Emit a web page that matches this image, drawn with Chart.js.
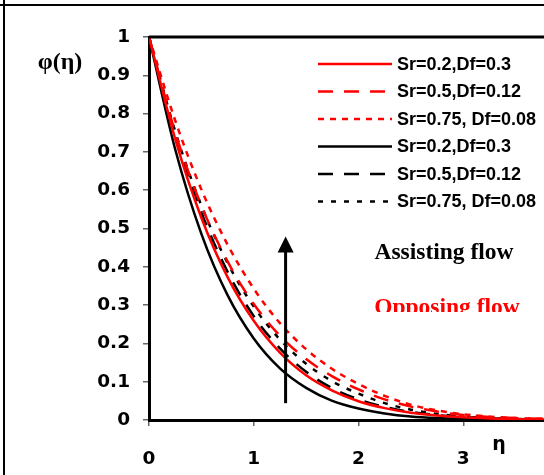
<!DOCTYPE html>
<html lang="en">
<head>
<meta charset="UTF-8">
<script src="https://cdn.jsdelivr.net/npm/chart.js"></script>
<style>
  body { margin: 0; background: #fff; overflow: hidden; }
  .wrap { width: 575px; height: 475px; }
</style>
</head>
<body>
<div class="wrap"><canvas id="chart" width="575" height="475"></canvas></div>
<script>
  // eta grid and concentration profiles
  const etaValues = [0, 0.25, 0.5, 0.75, 1, 1.25, 1.5, 1.75, 2, 2.25, 2.5, 2.75, 3, 3.25, 3.5, 3.75, 4];
  const redSolid    = [1, 0.734, 0.528, 0.373, 0.259, 0.176, 0.117, 0.077, 0.049, 0.031, 0.019, 0.012, 0.007, 0.004, 0.002, 0.001, 0.0005];
  const redDashed   = [1, 0.751, 0.560, 0.414, 0.303, 0.220, 0.159, 0.114, 0.080, 0.054, 0.035, 0.022, 0.013, 0.008, 0.005, 0.003, 0.002];
  const redDotted   = [1, 0.782, 0.602, 0.458, 0.343, 0.253, 0.185, 0.133, 0.094, 0.063, 0.040, 0.025, 0.015, 0.009, 0.005, 0.003, 0.002];
  const blackSolid  = [1, 0.707, 0.486, 0.326, 0.213, 0.135, 0.084, 0.050, 0.030, 0.017, 0.009, 0.005, 0.003, 0.0014, 0.0007, 0.0003, 0.0001];
  const blackDashed = [1, 0.743, 0.542, 0.387, 0.271, 0.187, 0.126, 0.083, 0.054, 0.034, 0.021, 0.013, 0.008, 0.0045, 0.0025, 0.0013, 0.0007];
  const blackDotted = [1, 0.754, 0.560, 0.410, 0.296, 0.210, 0.147, 0.101, 0.069, 0.044, 0.027, 0.016, 0.009, 0.005, 0.003, 0.002, 0.001];

  const seriesLabels = ['Sr=0.2,Df=0.3', 'Sr=0.5,Df=0.12', 'Sr=0.75, Df=0.08',
                        'Sr=0.2,Df=0.3', 'Sr=0.5,Df=0.12', 'Sr=0.75, Df=0.08'];
  const xTickLabels = ['0', '1', '2', '3', '4'];
  const yTickLabels = ['0', '0.1', '0.2', '0.3', '0.4', '0.5', '0.6', '0.7', '0.8', '0.9', '1'];

  // arrow (in data units)
  const arrowEta = 1.304, arrowFrom = 0.044, arrowTo = 0.479;

  const pts = arr => etaValues.map((x, i) => ({ x: x, y: arr[i] }));
  const RED = '#ff0000', BLACK = '#000000';

  function ds(label, data, color, dash) {
    return {
      label: label, data: pts(data), borderColor: color, borderWidth: 2.5,
      borderDash: dash, pointRadius: 0, fill: false, cubicInterpolationMode: 'monotone'
    };
  }

  const extras = {
    id: 'extras',
    afterDraw(chart) {
      const ctx = chart.ctx, a = chart.chartArea;
      const xs = chart.scales.x, ys = chart.scales.y;
      ctx.save();
      // outer figure frame
      ctx.strokeStyle = '#000'; ctx.lineWidth = 2;
      ctx.beginPath(); ctx.moveTo(0, 5); ctx.lineTo(chart.width, 5);
      ctx.moveTo(4, 0); ctx.lineTo(4, chart.height); ctx.stroke();
      // top and right of plot box
      ctx.lineWidth = 3;
      ctx.beginPath(); ctx.moveTo(a.left, a.top); ctx.lineTo(a.right, a.top); ctx.lineTo(a.right, a.bottom); ctx.stroke();

      // legend
      const legendY0 = 64, legendStep = 27.5;
      chart.data.datasets.forEach((d, i) => {
        const y = legendY0 + i * legendStep;
        ctx.strokeStyle = d.borderColor; ctx.lineWidth = 2.5;
        ctx.setLineDash(d.borderDash || []);
        ctx.beginPath(); ctx.moveTo(318, y); ctx.lineTo(392, y); ctx.stroke();
        ctx.setLineDash([]);
        ctx.fillStyle = '#000'; ctx.font = 'bold 18px "Liberation Sans", Arial, sans-serif';
        ctx.textAlign = 'left'; ctx.textBaseline = 'middle';
        ctx.fillText(d.label, 397, y + 1);
      });

      // arrow
      const ax = xs.getPixelForValue(arrowEta);
      const ay0 = ys.getPixelForValue(arrowFrom), ay1 = ys.getPixelForValue(arrowTo);
      ctx.strokeStyle = '#000'; ctx.fillStyle = '#000'; ctx.lineWidth = 3;
      ctx.beginPath(); ctx.moveTo(ax, ay0); ctx.lineTo(ax, ay1 + 12); ctx.stroke();
      ctx.beginPath(); ctx.moveTo(ax, ay1); ctx.lineTo(ax - 8, ay1 + 16); ctx.lineTo(ax + 8, ay1 + 16); ctx.closePath(); ctx.fill();

      // captions
      ctx.font = 'bold 23.5px "Liberation Serif", "Times New Roman", serif';
      ctx.textAlign = 'center'; ctx.textBaseline = 'alphabetic';
      ctx.fillStyle = '#000';
      ctx.fillText('Assisting flow', 444, 259);
      ctx.save();
      ctx.beginPath(); ctx.rect(300, 280, 260, 32); ctx.clip();
      ctx.fillStyle = RED;
      ctx.fillText('Opposing flow', 447, 314);
      ctx.restore();

      // axis titles
      ctx.fillStyle = '#000';
      ctx.font = 'bold 24px "Liberation Serif", "Times New Roman", serif';
      ctx.textAlign = 'center'; ctx.textBaseline = 'middle';
      ctx.fillText('φ(η)', 60, 63);
      ctx.font = 'bold 19px "DejaVu Sans", sans-serif';
      ctx.fillText('η', 499, 445);
      ctx.restore();
    }
  };

  const tickFont = { family: '"DejaVu Sans", sans-serif', size: 18.5, weight: 'bold' };

  new Chart(document.getElementById('chart'), {
    type: 'line',
    data: {
      datasets: [
        ds(seriesLabels[0], redSolid, RED, []),
        ds(seriesLabels[1], redDashed, RED, [15, 11]),
        ds(seriesLabels[2], redDotted, RED, [6, 6]),
        ds(seriesLabels[3], blackSolid, BLACK, []),
        ds(seriesLabels[4], blackDashed, BLACK, [15, 11]),
        ds(seriesLabels[5], blackDotted, BLACK, [5, 8])
      ]
    },
    options: {
      responsive: false,
      animation: false,
      layout: { padding: { top: 37, right: 7, left: 0, bottom: 0 } },
      plugins: { legend: { display: false }, tooltip: { enabled: false } },
      scales: {
        x: {
          type: 'linear', min: 0, max: 4,
          afterFit: s => { s.height = 55; s.paddingLeft = 0; s.paddingRight = 0; },
          border: { color: '#000', width: 3 },
          grid: { drawOnChartArea: false, drawTicks: true, tickLength: 6, tickColor: '#666', lineWidth: 1.5 },
          ticks: {
            stepSize: 1, autoSkip: false, maxRotation: 0, padding: 22, color: '#000',
            font: tickFont,
            callback: (v, i) => xTickLabels[i]
          }
        },
        y: {
          min: 0, max: 1,
          afterFit: s => { s.width = 149; s.paddingTop = 0; s.paddingBottom = 0; },
          border: { color: '#000', width: 3 },
          grid: { drawOnChartArea: false, drawTicks: true, tickLength: 6, tickColor: '#666', lineWidth: 1.5 },
          ticks: {
            stepSize: 0.1, autoSkip: false, padding: 13, color: '#000',
            font: tickFont,
            callback: (v, i) => yTickLabels[i]
          }
        }
      }
    },
    plugins: [extras]
  });
</script>
</body>
</html>
